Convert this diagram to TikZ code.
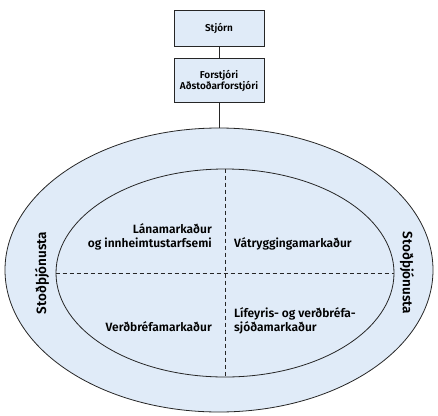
\documentclass[tikz,border=0pt]{standalone}
\usepackage{fontspec}
\setmainfont{Fira Sans}[BoldFont={Fira Sans SemiBold}]
\usetikzlibrary{positioning,shapes.geometric}
\definecolor{paleblue}{RGB}{224,235,248}
\tikzset{
	box/.style={draw=black!85, fill=paleblue, line width=0.8pt, minimum width=90pt, inner sep=2pt, font=\bfseries\fontsize{10}{10.5}\selectfont, align=center},
	ring/.style={draw=black!85, fill=paleblue, line width=0.8pt, ellipse, inner sep=0pt},
	area/.style={font=\bfseries\fontsize{12}{13.5}\selectfont, inner sep=0pt},
	divider/.style={draw=black!85, line width=0.6pt, dash pattern=on 4pt off 3pt}
}
\begin{document}
\begin{tikzpicture}[x=1pt,y=-1pt]
	\useasboundingbox (0,0) rectangle (438,415);
	\node[ring, minimum width=428pt, minimum height=284pt] (outer) at (219,270) {};
	\node[ring, minimum width=338pt, minimum height=208pt] (inner) at (225,273) {};
	\draw[divider] (inner.west) -- (inner.east);
	\draw[divider] (inner.north) -- (inner.south);
	\node[box, minimum height=36pt] (stjorn) at (219,28) {Stjórn};
	\node[box, minimum height=44pt, below=12pt of stjorn] (forstjori) {Forstjóri\\Aðstoðarforstjóri};
	\draw[line width=0.8pt, black!85] (stjorn) -- (forstjori);
	\draw[line width=0.8pt, black!85] (forstjori) -- (forstjori.south |- outer.north);
	\node[area, anchor=east, align=right] (lana) at (212,237) {Lánamarkaður\\og innheimtustarfsemi};
	\node[area, anchor=east] (verdbref) at (212,327) {Verðbréfamarkaður};
	\node[area, anchor=west] (vatrygg) at (234,244) {Vátryggingamarkaður};
	\node[area, anchor=west, align=left] (lifeyris) at (234,321) {Lífeyris- og verðbréfa-\\sjóðamarkaður};
	\node[area, font=\bfseries\fontsize{13.5}{15}\selectfont, rotate=90] (stodleft) at (42,273) {Stoðþjónusta};
	\node[area, font=\bfseries\fontsize{13.5}{15}\selectfont, rotate=-90] (stodright) at (407,273) {Stoðþjónusta};
\end{tikzpicture}
\end{document}
